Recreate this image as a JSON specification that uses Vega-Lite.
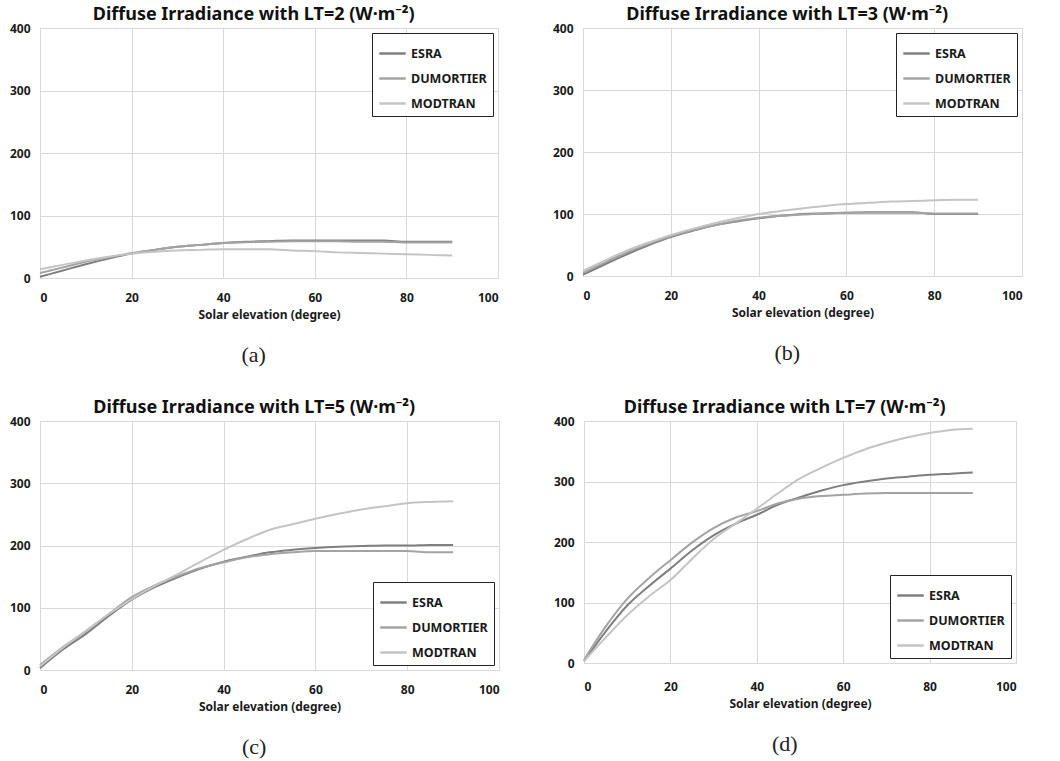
{
  "$schema": "https://vega.github.io/schema/vega-lite/v6.json",
  "background": "white",
  "padding": {"left": 8, "top": 5, "right": 10, "bottom": 3},
  "config": {
    "font": "Noto Sans",
    "view": {"stroke": "#d0d0d0", "strokeWidth": 1},
    "axis": {"domain": false, "ticks": false, "grid": true, "gridColor": "#d9d9d9", "gridWidth": 1,
      "labelFont": "Noto Sans", "labelFontWeight": "bold", "labelFontSize": 12, "labelColor": "#1a1a1a",
      "titleFont": "Noto Sans", "titleFontSize": 12, "titleFontWeight": "bold", "titleColor": "#1a1a1a"},
    "axisX": {"labelPadding": 14, "titlePadding": 6},
    "axisY": {"labelPadding": 10},
    "legend": {"strokeColor": "#222", "fillColor": "white", "padding": 6, "symbolType": "stroke",
      "symbolStrokeWidth": 2.5, "symbolSize": 700, "labelFont": "Noto Sans", "labelFontSize": 12.5,
      "labelFontWeight": "bold", "labelColor": "#1a1a1a", "rowPadding": 4, "labelOffset": 4, "offset": 5},
    "title": {"font": "Noto Sans", "fontSize": 18, "fontWeight": "bold", "color": "#111", "frame": "bounds", "offset": -2}
  },
  "datasets": {
    "d": [
      {"p":"a","m":"ESRA","x":0,"y":2},{"p":"a","m":"ESRA","x":5,"y":12},{"p":"a","m":"ESRA","x":10,"y":22},{"p":"a","m":"ESRA","x":15,"y":31},{"p":"a","m":"ESRA","x":20,"y":39},{"p":"a","m":"ESRA","x":25,"y":45},{"p":"a","m":"ESRA","x":30,"y":50},{"p":"a","m":"ESRA","x":35,"y":53},{"p":"a","m":"ESRA","x":40,"y":56},{"p":"a","m":"ESRA","x":45,"y":58},{"p":"a","m":"ESRA","x":50,"y":59},{"p":"a","m":"ESRA","x":55,"y":60},{"p":"a","m":"ESRA","x":60,"y":60},{"p":"a","m":"ESRA","x":65,"y":60},{"p":"a","m":"ESRA","x":70,"y":60},{"p":"a","m":"ESRA","x":75,"y":60},{"p":"a","m":"ESRA","x":80,"y":58},{"p":"a","m":"ESRA","x":85,"y":58},{"p":"a","m":"ESRA","x":90,"y":58},
      {"p":"a","m":"DUMORTIER","x":0,"y":8},{"p":"a","m":"DUMORTIER","x":5,"y":17},{"p":"a","m":"DUMORTIER","x":10,"y":26},{"p":"a","m":"DUMORTIER","x":15,"y":33},{"p":"a","m":"DUMORTIER","x":20,"y":40},{"p":"a","m":"DUMORTIER","x":25,"y":45},{"p":"a","m":"DUMORTIER","x":30,"y":50},{"p":"a","m":"DUMORTIER","x":35,"y":53},{"p":"a","m":"DUMORTIER","x":40,"y":56},{"p":"a","m":"DUMORTIER","x":45,"y":57},{"p":"a","m":"DUMORTIER","x":50,"y":58},{"p":"a","m":"DUMORTIER","x":55,"y":59},{"p":"a","m":"DUMORTIER","x":60,"y":59},{"p":"a","m":"DUMORTIER","x":65,"y":59},{"p":"a","m":"DUMORTIER","x":70,"y":58},{"p":"a","m":"DUMORTIER","x":75,"y":58},{"p":"a","m":"DUMORTIER","x":80,"y":57},{"p":"a","m":"DUMORTIER","x":85,"y":57},{"p":"a","m":"DUMORTIER","x":90,"y":57},
      {"p":"a","m":"MODTRAN","x":0,"y":14},{"p":"a","m":"MODTRAN","x":5,"y":21},{"p":"a","m":"MODTRAN","x":10,"y":28},{"p":"a","m":"MODTRAN","x":15,"y":34},{"p":"a","m":"MODTRAN","x":20,"y":39},{"p":"a","m":"MODTRAN","x":25,"y":42},{"p":"a","m":"MODTRAN","x":30,"y":44},{"p":"a","m":"MODTRAN","x":35,"y":45},{"p":"a","m":"MODTRAN","x":40,"y":46},{"p":"a","m":"MODTRAN","x":45,"y":46},{"p":"a","m":"MODTRAN","x":50,"y":46},{"p":"a","m":"MODTRAN","x":55,"y":44},{"p":"a","m":"MODTRAN","x":60,"y":43},{"p":"a","m":"MODTRAN","x":65,"y":41},{"p":"a","m":"MODTRAN","x":70,"y":40},{"p":"a","m":"MODTRAN","x":75,"y":39},{"p":"a","m":"MODTRAN","x":80,"y":38},{"p":"a","m":"MODTRAN","x":85,"y":37},{"p":"a","m":"MODTRAN","x":90,"y":36},
      {"p":"b","m":"ESRA","x":0,"y":2},{"p":"b","m":"ESRA","x":5,"y":19},{"p":"b","m":"ESRA","x":10,"y":35},{"p":"b","m":"ESRA","x":15,"y":50},{"p":"b","m":"ESRA","x":20,"y":63},{"p":"b","m":"ESRA","x":25,"y":73},{"p":"b","m":"ESRA","x":30,"y":82},{"p":"b","m":"ESRA","x":35,"y":88},{"p":"b","m":"ESRA","x":40,"y":93},{"p":"b","m":"ESRA","x":45,"y":97},{"p":"b","m":"ESRA","x":50,"y":100},{"p":"b","m":"ESRA","x":55,"y":101},{"p":"b","m":"ESRA","x":60,"y":102},{"p":"b","m":"ESRA","x":65,"y":103},{"p":"b","m":"ESRA","x":70,"y":103},{"p":"b","m":"ESRA","x":75,"y":103},{"p":"b","m":"ESRA","x":80,"y":100},{"p":"b","m":"ESRA","x":85,"y":100},{"p":"b","m":"ESRA","x":90,"y":100},
      {"p":"b","m":"DUMORTIER","x":0,"y":5},{"p":"b","m":"DUMORTIER","x":5,"y":22},{"p":"b","m":"DUMORTIER","x":10,"y":38},{"p":"b","m":"DUMORTIER","x":15,"y":52},{"p":"b","m":"DUMORTIER","x":20,"y":64},{"p":"b","m":"DUMORTIER","x":25,"y":74},{"p":"b","m":"DUMORTIER","x":30,"y":82},{"p":"b","m":"DUMORTIER","x":35,"y":89},{"p":"b","m":"DUMORTIER","x":40,"y":94},{"p":"b","m":"DUMORTIER","x":45,"y":97},{"p":"b","m":"DUMORTIER","x":50,"y":99},{"p":"b","m":"DUMORTIER","x":55,"y":101},{"p":"b","m":"DUMORTIER","x":60,"y":102},{"p":"b","m":"DUMORTIER","x":65,"y":102},{"p":"b","m":"DUMORTIER","x":70,"y":102},{"p":"b","m":"DUMORTIER","x":75,"y":102},{"p":"b","m":"DUMORTIER","x":80,"y":101},{"p":"b","m":"DUMORTIER","x":85,"y":101},{"p":"b","m":"DUMORTIER","x":90,"y":101},
      {"p":"b","m":"MODTRAN","x":0,"y":8},{"p":"b","m":"MODTRAN","x":5,"y":25},{"p":"b","m":"MODTRAN","x":10,"y":41},{"p":"b","m":"MODTRAN","x":15,"y":54},{"p":"b","m":"MODTRAN","x":20,"y":66},{"p":"b","m":"MODTRAN","x":25,"y":76},{"p":"b","m":"MODTRAN","x":30,"y":85},{"p":"b","m":"MODTRAN","x":35,"y":93},{"p":"b","m":"MODTRAN","x":40,"y":100},{"p":"b","m":"MODTRAN","x":45,"y":105},{"p":"b","m":"MODTRAN","x":50,"y":109},{"p":"b","m":"MODTRAN","x":55,"y":113},{"p":"b","m":"MODTRAN","x":60,"y":116},{"p":"b","m":"MODTRAN","x":65,"y":118},{"p":"b","m":"MODTRAN","x":70,"y":120},{"p":"b","m":"MODTRAN","x":75,"y":121},{"p":"b","m":"MODTRAN","x":80,"y":122},{"p":"b","m":"MODTRAN","x":85,"y":123},{"p":"b","m":"MODTRAN","x":90,"y":123},
      {"p":"c","m":"ESRA","x":0,"y":3},{"p":"c","m":"ESRA","x":5,"y":33},{"p":"c","m":"ESRA","x":10,"y":58},{"p":"c","m":"ESRA","x":15,"y":87},{"p":"c","m":"ESRA","x":20,"y":113},{"p":"c","m":"ESRA","x":25,"y":133},{"p":"c","m":"ESRA","x":30,"y":149},{"p":"c","m":"ESRA","x":35,"y":163},{"p":"c","m":"ESRA","x":40,"y":174},{"p":"c","m":"ESRA","x":45,"y":182},{"p":"c","m":"ESRA","x":50,"y":189},{"p":"c","m":"ESRA","x":55,"y":193},{"p":"c","m":"ESRA","x":60,"y":196},{"p":"c","m":"ESRA","x":65,"y":198},{"p":"c","m":"ESRA","x":70,"y":199},{"p":"c","m":"ESRA","x":75,"y":200},{"p":"c","m":"ESRA","x":80,"y":200},{"p":"c","m":"ESRA","x":85,"y":201},{"p":"c","m":"ESRA","x":90,"y":201},
      {"p":"c","m":"DUMORTIER","x":0,"y":8},{"p":"c","m":"DUMORTIER","x":5,"y":37},{"p":"c","m":"DUMORTIER","x":10,"y":62},{"p":"c","m":"DUMORTIER","x":15,"y":90},{"p":"c","m":"DUMORTIER","x":20,"y":117},{"p":"c","m":"DUMORTIER","x":25,"y":136},{"p":"c","m":"DUMORTIER","x":30,"y":151},{"p":"c","m":"DUMORTIER","x":35,"y":164},{"p":"c","m":"DUMORTIER","x":40,"y":173},{"p":"c","m":"DUMORTIER","x":45,"y":181},{"p":"c","m":"DUMORTIER","x":50,"y":186},{"p":"c","m":"DUMORTIER","x":55,"y":189},{"p":"c","m":"DUMORTIER","x":60,"y":191},{"p":"c","m":"DUMORTIER","x":65,"y":191},{"p":"c","m":"DUMORTIER","x":70,"y":191},{"p":"c","m":"DUMORTIER","x":75,"y":191},{"p":"c","m":"DUMORTIER","x":80,"y":191},{"p":"c","m":"DUMORTIER","x":85,"y":189},{"p":"c","m":"DUMORTIER","x":90,"y":189},
      {"p":"c","m":"MODTRAN","x":0,"y":6},{"p":"c","m":"MODTRAN","x":5,"y":36},{"p":"c","m":"MODTRAN","x":10,"y":63},{"p":"c","m":"MODTRAN","x":15,"y":90},{"p":"c","m":"MODTRAN","x":20,"y":114},{"p":"c","m":"MODTRAN","x":25,"y":135},{"p":"c","m":"MODTRAN","x":30,"y":154},{"p":"c","m":"MODTRAN","x":35,"y":174},{"p":"c","m":"MODTRAN","x":40,"y":193},{"p":"c","m":"MODTRAN","x":45,"y":210},{"p":"c","m":"MODTRAN","x":50,"y":225},{"p":"c","m":"MODTRAN","x":55,"y":234},{"p":"c","m":"MODTRAN","x":60,"y":243},{"p":"c","m":"MODTRAN","x":65,"y":251},{"p":"c","m":"MODTRAN","x":70,"y":258},{"p":"c","m":"MODTRAN","x":75,"y":263},{"p":"c","m":"MODTRAN","x":80,"y":268},{"p":"c","m":"MODTRAN","x":85,"y":270},{"p":"c","m":"MODTRAN","x":90,"y":271},
      {"p":"d","m":"ESRA","x":0,"y":3},{"p":"d","m":"ESRA","x":5,"y":52},{"p":"d","m":"ESRA","x":10,"y":95},{"p":"d","m":"ESRA","x":15,"y":127},{"p":"d","m":"ESRA","x":20,"y":156},{"p":"d","m":"ESRA","x":25,"y":186},{"p":"d","m":"ESRA","x":30,"y":211},{"p":"d","m":"ESRA","x":35,"y":230},{"p":"d","m":"ESRA","x":40,"y":245},{"p":"d","m":"ESRA","x":45,"y":262},{"p":"d","m":"ESRA","x":50,"y":274},{"p":"d","m":"ESRA","x":55,"y":285},{"p":"d","m":"ESRA","x":60,"y":294},{"p":"d","m":"ESRA","x":65,"y":300},{"p":"d","m":"ESRA","x":70,"y":305},{"p":"d","m":"ESRA","x":75,"y":308},{"p":"d","m":"ESRA","x":80,"y":311},{"p":"d","m":"ESRA","x":85,"y":313},{"p":"d","m":"ESRA","x":90,"y":315},
      {"p":"d","m":"DUMORTIER","x":0,"y":5},{"p":"d","m":"DUMORTIER","x":5,"y":60},{"p":"d","m":"DUMORTIER","x":10,"y":106},{"p":"d","m":"DUMORTIER","x":15,"y":140},{"p":"d","m":"DUMORTIER","x":20,"y":170},{"p":"d","m":"DUMORTIER","x":25,"y":199},{"p":"d","m":"DUMORTIER","x":30,"y":223},{"p":"d","m":"DUMORTIER","x":35,"y":240},{"p":"d","m":"DUMORTIER","x":40,"y":251},{"p":"d","m":"DUMORTIER","x":45,"y":264},{"p":"d","m":"DUMORTIER","x":50,"y":272},{"p":"d","m":"DUMORTIER","x":55,"y":276},{"p":"d","m":"DUMORTIER","x":60,"y":278},{"p":"d","m":"DUMORTIER","x":65,"y":280},{"p":"d","m":"DUMORTIER","x":70,"y":281},{"p":"d","m":"DUMORTIER","x":75,"y":281},{"p":"d","m":"DUMORTIER","x":80,"y":281},{"p":"d","m":"DUMORTIER","x":85,"y":281},{"p":"d","m":"DUMORTIER","x":90,"y":281},
      {"p":"d","m":"MODTRAN","x":0,"y":3},{"p":"d","m":"MODTRAN","x":5,"y":42},{"p":"d","m":"MODTRAN","x":10,"y":79},{"p":"d","m":"MODTRAN","x":15,"y":110},{"p":"d","m":"MODTRAN","x":20,"y":137},{"p":"d","m":"MODTRAN","x":25,"y":172},{"p":"d","m":"MODTRAN","x":30,"y":205},{"p":"d","m":"MODTRAN","x":35,"y":230},{"p":"d","m":"MODTRAN","x":40,"y":255},{"p":"d","m":"MODTRAN","x":45,"y":281},{"p":"d","m":"MODTRAN","x":50,"y":305},{"p":"d","m":"MODTRAN","x":55,"y":323},{"p":"d","m":"MODTRAN","x":60,"y":339},{"p":"d","m":"MODTRAN","x":65,"y":353},{"p":"d","m":"MODTRAN","x":70,"y":364},{"p":"d","m":"MODTRAN","x":75,"y":373},{"p":"d","m":"MODTRAN","x":80,"y":380},{"p":"d","m":"MODTRAN","x":85,"y":385},{"p":"d","m":"MODTRAN","x":90,"y":387}
    ]
  },
  "resolve": {"scale": {"color": "independent"}, "legend": {"color": "independent"}},
  "spacing": 32,
  "vconcat": [
    {
      "resolve": {"scale": {"color": "independent"}, "legend": {"color": "independent"}},
      "spacing": 52,
      "hconcat": [
        {
          "resolve": {"scale": {"color": "independent"}, "legend": {"color": "independent"}},
          "title": {"text": "(a)", "orient": "bottom", "font": "Liberation Serif", "fontSize": 22, "fontWeight": "normal", "color": "#222", "offset": 24, "anchor": "middle"},
          "vconcat": [
            {
              "title": {"text": "Diffuse Irradiance with LT=2 (W·m⁻²)"},
              "width": 458, "height": 250,
              "data": {"name": "d"},
              "transform": [{"filter": "datum.p == 'a'"}],
              "mark": {"type": "line", "strokeWidth": 2, "interpolate": "monotone"},
              "encoding": {
                "x": {"field": "x", "type": "quantitative", "scale": {"domain": [0, 100]}, "axis": {"values": [0, 20, 40, 60, 80, 100], "title": "Solar elevation (degree)"}},
                "y": {"field": "y", "type": "quantitative", "scale": {"domain": [0, 400]}, "axis": {"values": [0, 100, 200, 300, 400], "title": null}},
                "color": {"field": "m", "type": "nominal", "scale": {"domain": ["ESRA", "DUMORTIER", "MODTRAN"], "range": ["#7f7f7f", "#a3a3a3", "#c4c4c4"]}, "legend": {"title": null, "orient": "top-right"}}
              }
            }
          ]
        },
        {
          "resolve": {"scale": {"color": "independent"}, "legend": {"color": "independent"}},
          "title": {"text": "(b)", "orient": "bottom", "font": "Liberation Serif", "fontSize": 22, "fontWeight": "normal", "color": "#222", "offset": 24, "anchor": "middle"},
          "vconcat": [
            {
              "title": {"text": "Diffuse Irradiance with LT=3 (W·m⁻²)"},
              "width": 439, "height": 248,
              "data": {"name": "d"},
              "transform": [{"filter": "datum.p == 'b'"}],
              "mark": {"type": "line", "strokeWidth": 2, "interpolate": "monotone"},
              "encoding": {
                "x": {"field": "x", "type": "quantitative", "scale": {"domain": [0, 100]}, "axis": {"values": [0, 20, 40, 60, 80, 100], "title": "Solar elevation (degree)"}},
                "y": {"field": "y", "type": "quantitative", "scale": {"domain": [0, 400]}, "axis": {"values": [0, 100, 200, 300, 400], "title": null}},
                "color": {"field": "m", "type": "nominal", "scale": {"domain": ["ESRA", "DUMORTIER", "MODTRAN"], "range": ["#7f7f7f", "#a3a3a3", "#c4c4c4"]}, "legend": {"title": null, "orient": "top-right"}}
              }
            }
          ]
        }
      ]
    },
    {
      "resolve": {"scale": {"color": "independent"}, "legend": {"color": "independent"}},
      "spacing": 52,
      "hconcat": [
        {
          "resolve": {"scale": {"color": "independent"}, "legend": {"color": "independent"}},
          "title": {"text": "(c)", "orient": "bottom", "font": "Liberation Serif", "fontSize": 22, "fontWeight": "normal", "color": "#222", "offset": 24, "anchor": "middle"},
          "vconcat": [
            {
              "title": {"text": "Diffuse Irradiance with LT=5 (W·m⁻²)"},
              "width": 459, "height": 249,
              "data": {"name": "d"},
              "transform": [{"filter": "datum.p == 'c'"}],
              "mark": {"type": "line", "strokeWidth": 2, "interpolate": "monotone"},
              "encoding": {
                "x": {"field": "x", "type": "quantitative", "scale": {"domain": [0, 100]}, "axis": {"values": [0, 20, 40, 60, 80, 100], "title": "Solar elevation (degree)"}},
                "y": {"field": "y", "type": "quantitative", "scale": {"domain": [0, 400]}, "axis": {"values": [0, 100, 200, 300, 400], "title": null}},
                "color": {"field": "m", "type": "nominal", "scale": {"domain": ["ESRA", "DUMORTIER", "MODTRAN"], "range": ["#7f7f7f", "#a3a3a3", "#c4c4c4"]}, "legend": {"title": null, "orient": "bottom-right"}}
              }
            }
          ]
        },
        {
          "resolve": {"scale": {"color": "independent"}, "legend": {"color": "independent"}},
          "title": {"text": "(d)", "orient": "bottom", "font": "Liberation Serif", "fontSize": 22, "fontWeight": "normal", "color": "#222", "offset": 24, "anchor": "middle"},
          "vconcat": [
            {
              "title": {"text": "Diffuse Irradiance with LT=7 (W·m⁻²)"},
              "width": 432, "height": 242,
              "data": {"name": "d"},
              "transform": [{"filter": "datum.p == 'd'"}],
              "mark": {"type": "line", "strokeWidth": 2, "interpolate": "monotone"},
              "encoding": {
                "x": {"field": "x", "type": "quantitative", "scale": {"domain": [0, 100]}, "axis": {"values": [0, 20, 40, 60, 80, 100], "title": "Solar elevation (degree)", "labelPadding": 18}},
                "y": {"field": "y", "type": "quantitative", "scale": {"domain": [0, 400]}, "axis": {"values": [0, 100, 200, 300, 400], "title": null}},
                "color": {"field": "m", "type": "nominal", "scale": {"domain": ["ESRA", "DUMORTIER", "MODTRAN"], "range": ["#7f7f7f", "#a3a3a3", "#c4c4c4"]}, "legend": {"title": null, "orient": "bottom-right"}}
              }
            }
          ]
        }
      ]
    }
  ]
}
